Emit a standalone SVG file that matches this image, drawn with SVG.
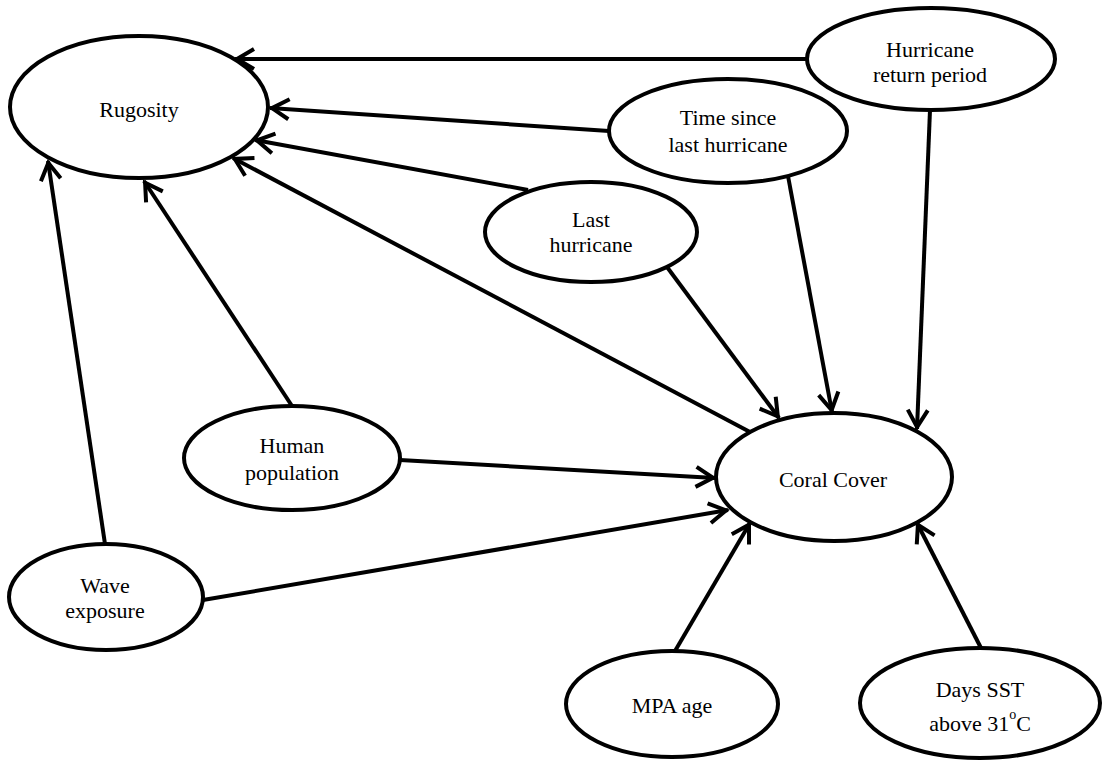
<svg xmlns="http://www.w3.org/2000/svg" width="1102" height="761" viewBox="0 0 1102 761">
<style>
.node ellipse{fill:#fff;stroke:#000;stroke-width:4}
.node text{font-family:"Liberation Serif","Times New Roman",serif;font-size:22px;fill:#000;text-anchor:middle}
.edges line{stroke:#000;stroke-width:4;marker-end:url(#arr)}
</style>
<defs>
<marker id="arr" markerUnits="userSpaceOnUse" markerWidth="30" markerHeight="30" viewBox="-22 -15 30 30" refX="2" refY="0" orient="auto" overflow="visible">
<path d="M-17,-10 L0,0 L-17,10" fill="none" stroke="#000" stroke-width="4" stroke-linejoin="miter"/>
</marker>
</defs>
<rect width="1102" height="761" fill="#fff"/>
<g id="rugosity" class="node"><ellipse cx="139" cy="107" rx="129" ry="71"/><text x="139" y="117">Rugosity</text></g>
<g id="hurricane-return-period" class="node"><ellipse cx="931" cy="59" rx="124" ry="51"/><text x="930" y="57">Hurricane</text><text x="930" y="82">return period</text></g>
<g id="time-since-last-hurricane" class="node"><ellipse cx="728" cy="131" rx="119" ry="52"/><text x="728" y="125">Time since</text><text x="728" y="152">last hurricane</text></g>
<g id="last-hurricane" class="node"><ellipse cx="591" cy="232" rx="106" ry="50"/><text x="591" y="227">Last</text><text x="591" y="252">hurricane</text></g>
<g id="human-population" class="node"><ellipse cx="292" cy="458" rx="108" ry="52"/><text x="292" y="453">Human</text><text x="292" y="480">population</text></g>
<g id="coral-cover" class="node"><ellipse cx="834" cy="477" rx="118" ry="64"/><text x="833" y="487">Coral Cover</text></g>
<g id="wave-exposure" class="node"><ellipse cx="106" cy="597" rx="97" ry="53"/><text x="105" y="593">Wave</text><text x="105" y="618">exposure</text></g>
<g id="mpa-age" class="node"><ellipse cx="672" cy="704" rx="106" ry="53"/><text x="672" y="713">MPA age</text></g>
<g id="days-sst" class="node"><ellipse cx="980" cy="703" rx="120" ry="55"/><text x="980" y="697">Days SST</text><text x="980" y="731">above 31<tspan font-size="14" dy="-12">o</tspan><tspan dy="12">C</tspan></text></g>
<g id="connectors" class="edges">
<line x1="807" y1="59" x2="235" y2="59"/>
<line x1="609" y1="131" x2="270" y2="108"/>
<line x1="528" y1="190" x2="255" y2="140"/>
<line x1="750" y1="432" x2="233" y2="158"/>
<line x1="105" y1="544" x2="48" y2="161"/>
<line x1="292" y1="406" x2="144" y2="181"/>
<line x1="667" y1="267" x2="779" y2="418"/>
<line x1="788" y1="176" x2="832" y2="412"/>
<line x1="930" y1="110" x2="917" y2="429"/>
<line x1="400" y1="460" x2="715" y2="478"/>
<line x1="203" y1="600" x2="728" y2="510"/>
<line x1="675" y1="651" x2="750" y2="523"/>
<line x1="981" y1="648" x2="917" y2="523"/>
</g>
</svg>
